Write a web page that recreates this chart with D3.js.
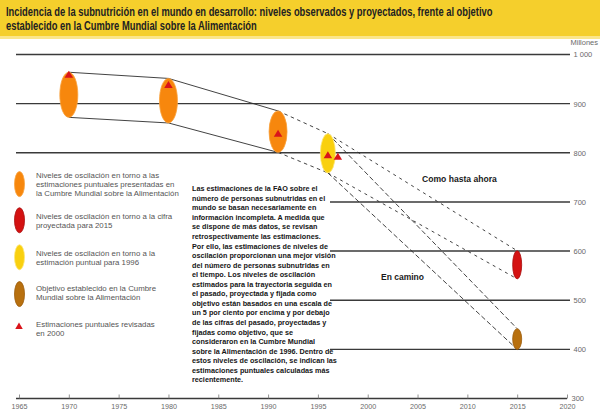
<!DOCTYPE html>
<html><head><meta charset="utf-8">
<script src="https://cdn.jsdelivr.net/npm/d3@7"></script>
<style>body{margin:0;background:#fff}svg{display:block}</style>
</head><body>
<svg id="c" width="600" height="415"></svg>
<script>
// ---------- DATA ----------
const titleLines = [
  "Incidencia de la subnutrición en el mundo en desarrollo: niveles observados y proyectados, frente al objetivo",
  "establecido en la Cumbre Mundial sobre la Alimentación"
];
const unitLabel = "Millones";
const yTicks = [1000, 900, 800, 700, 600, 500, 400, 300];
const xTicks = [1965, 1970, 1975, 1980, 1985, 1990, 1995, 2000, 2005, 2010, 2015, 2020];

// point estimates presented at the World Food Summit (orange)
const observedYears  = [1970, 1980, 1991];
const observedValues = [918, 906, 843];
// point estimate for 1996 (yellow)
const estimateYear = 1996;
const estimateValue = 799;
// projected figure for 2015 (red) and WFS target (brown)
const projectedYear = 2015;
const projectedValue = 572;
const targetYear = 2015;
const targetValue = 421;
// oscillation band (+/- 5 per cent)
const bandShare = 0.05;
// revised point estimates, 2000 (triangles)
const revisedYears  = [1970, 1980, 1991, 1996, 1997];
const revisedValues = [960, 939, 840, 796, 793];

const scenarioLabels = ["Como hasta ahora", "En camino"];

const legendLabels = [
  ["Niveles de oscilación en torno a las", "estimaciones puntuales presentadas en", "la Cumbre Mundial sobre la Alimentación"],
  ["Niveles de oscilación en torno a la cifra", "proyectada para 2015"],
  ["Niveles de oscilación en torno a la", "estimación puntual para 1996"],
  ["Objetivo establecido en la Cumbre", "Mundial sobre la Alimentación"],
  ["Estimaciones puntuales revisadas", "en 2000"]
];

const noteLines = [
  "Las estimaciones de la FAO sobre el",
  "número de personas subnutridas en el",
  "mundo se basan necesariamente en",
  "información incompleta. A medida que",
  "se dispone de más datos, se revisan",
  "retrospectivamente las estimaciones.",
  "Por ello, las estimaciones de niveles de",
  "oscilación proporcionan una mejor visión",
  "del número de personas subnutridas en",
  "el tiempo. Los niveles de oscilación",
  "estimados para la trayectoria seguida en",
  "el pasado, proyectada y fijada como",
  "objetivo están basados en una escala de",
  "un 5 por ciento por encima y por debajo",
  "de las cifras del pasado, proyectadas y",
  "fijadas como objetivo, que se",
  "consideraron en la Cumbre Mundial",
  "sobre la Alimentación de 1996. Dentro de",
  "estos niveles de oscilación, se indican las",
  "estimaciones puntuales calculadas más",
  "recientemente."
];

// ---------- STYLE ----------
const C = {
  orange: "#f7870d", orangeEdge: "#f9a23e",
  yellow: "#f9d00f", yellowEdge: "#fde77c",
  red: "#d41212", redEdge: "#a80c0c",
  brown: "#b8700f", brownEdge: "#9c5c0a",
  tri: "#d9141b",
  grid: "#3a3a3a", line: "#2e2e2e",
  axisText: "#6a6a6a", legendText: "#555", noteText: "#151515"
};
const FONT = "'Liberation Sans', Arial, sans-serif";

const svg = d3.select("#c");
const x = d3.scaleLinear().domain([1965, 2020]).range([19, 567]);
const y = d3.scaleLinear().domain([300, 1000]).range([398.5, 54.5]);

function fit(g, width, tx, ty) {
  const w = d3.max(g.selectAll("text").nodes(), n => n.getComputedTextLength());
  g.attr("transform", `translate(${tx},${ty}) scale(${width / w},1)`);
}

// ---------- TITLE BAND ----------
svg.append("rect").attr("x", 0).attr("y", 0).attr("width", 600).attr("height", 36).attr("fill", "#f5cf2c");
svg.append("rect").attr("x", 0).attr("y", 36).attr("width", 600).attr("height", 3).attr("fill", "#fbe68a");
const tg = svg.append("g");
tg.selectAll("text").data(titleLines).join("text")
  .attr("x", 0).attr("y", (d, i) => i * 14)
  .attr("font-family", FONT).attr("font-size", 12).attr("font-weight", "bold")
  .attr("fill", "#222").text(d => d);
fit(tg, 487, 6, 16);

// ---------- GRID / RIGHT AXIS ----------
const fmt = d3.formatLocale({decimal: ",", thousands: " ", grouping: [3], currency: ["", ""]}).format(",");
svg.append("g").selectAll("line").data(yTicks.filter(v => v > 300)).join("line")
  .attr("x1", v => v >= 800 ? 16 : 330).attr("x2", 570)
  .attr("y1", v => y(v)).attr("y2", v => y(v))
  .attr("stroke", C.grid).attr("stroke-width", 1.4);

const ra = svg.append("g").attr("transform", "translate(570,0)")
  .call(d3.axisRight(y).tickValues(yTicks).tickSize(0).tickPadding(3.5).tickFormat(fmt));
ra.select(".domain").remove();
ra.selectAll("text").attr("font-family", FONT).attr("font-size", 7.5).attr("fill", C.axisText);
ra.selectAll("text").filter(d => d === 300).attr("dx", -2);

svg.append("text").attr("x", 598).attr("y", 45).attr("text-anchor", "end")
  .attr("font-family", FONT).attr("font-size", 7.5).attr("fill", C.axisText).text(unitLabel);

// ---------- BOTTOM AXIS ----------
const ba = svg.append("g").attr("transform", `translate(0,${y(300)})`)
  .call(d3.axisBottom(x).tickValues(xTicks).tickSize(-4).tickSizeOuter(0).tickPadding(5).tickFormat(d3.format("d")));
ba.select(".domain").attr("stroke", C.grid).attr("stroke-width", 1.4).attr("d", `M16,0H${x(2020)}`);
ba.selectAll(".tick line").attr("stroke", "#777").attr("stroke-width", 0.8);
ba.selectAll("text").attr("font-family", FONT).attr("font-size", 7.2).attr("fill", C.axisText);

// ---------- BANDS ----------
const hi = v => y(v * (1 + bandShare));
const lo = v => y(v * (1 - bandShare));
const obs = observedYears.map((yr, i) => ({year: yr, value: observedValues[i]}));
const est = {year: estimateYear, value: estimateValue};
const proj = {year: projectedYear, value: projectedValue};
const targ = {year: targetYear, value: targetValue};

const lineG = svg.append("g").attr("fill", "none").attr("stroke", C.line).attr("stroke-width", 0.9);
const upperLine = d3.line().x(d => x(d.year)).y(d => hi(d.value));
const lowerLine = d3.line().x(d => x(d.year)).y(d => lo(d.value));
// observed trajectory (solid)
lineG.append("path").attr("d", upperLine(obs));
lineG.append("path").attr("d", lowerLine(obs));
// 1991 -> 1996
const lastObs = obs[obs.length - 1];
lineG.append("path").attr("d", upperLine([lastObs, est])).attr("stroke-dasharray", "3.5,3.5");
lineG.append("path").attr("d", lowerLine([lastObs, est])).attr("stroke-dasharray", "3.5,3.5");
// "Como hasta ahora"
lineG.append("path").attr("d", upperLine([est, proj])).attr("stroke-dasharray", "3,4");
lineG.append("path").attr("d", lowerLine([est, proj])).attr("stroke-dasharray", "3,4");
// "En camino"
lineG.append("path").attr("d", upperLine([est, targ])).attr("stroke-dasharray", "5,2.5");
lineG.append("path").attr("d", lowerLine([est, targ])).attr("stroke-dasharray", "5,2.5");

const bands = [
  ...obs.map(d => ({...d, fill: C.orange, edge: C.orangeEdge, rx: 9})),
  {...est, fill: C.yellow, edge: C.yellowEdge, rx: 7.5},
  {...proj, fill: C.red, edge: C.redEdge, rx: 4.5},
  {...targ, fill: C.brown, edge: C.brownEdge, rx: 4.5}
];
svg.append("g").selectAll("ellipse").data(bands).join("ellipse")
  .attr("cx", d => x(d.year)).attr("cy", d => y(d.value))
  .attr("rx", d => d.rx).attr("ry", d => (lo(d.value) - hi(d.value)) / 2)
  .attr("fill", d => d.fill).attr("stroke", d => d.edge).attr("stroke-width", 0.8);

// revised estimates (triangles)
const triPath = (cx, cy, w, h) => `M${cx},${cy - h / 2}L${cx + w / 2},${cy + h / 2}L${cx - w / 2},${cy + h / 2}Z`;
svg.append("g").selectAll("path").data(revisedYears.map((yr, i) => ({year: yr, value: revisedValues[i]})))
  .join("path").attr("d", d => triPath(x(d.year), y(d.value), 8.5, 7)).attr("fill", C.tri);

// scenario labels
const scen = [{t: scenarioLabels[0], x: 422, y: 181.5, w: 75}, {t: scenarioLabels[1], x: 381, y: 279.5, w: 43}];
scen.forEach(s => {
  const g = svg.append("g");
  g.append("text").attr("x", 0).attr("y", 0).attr("font-family", FONT).attr("font-size", 9.5)
    .attr("font-weight", "bold").attr("fill", "#1a1a1a").text(s.t);
  fit(g, s.w, s.x, s.y);
});

// ---------- LEGEND ----------
const legendFirstBaseline = [178, 218.7, 255.7, 291, 327.2];
const legendLH = 9.1;
const legendSym = [
  {fill: C.orange, edge: C.orangeEdge},
  {fill: C.red, edge: C.redEdge},
  {fill: C.yellow, edge: C.yellowEdge},
  {fill: C.brown, edge: C.brownEdge},
  {tri: true}
];
const lg = svg.append("g");
legendLabels.forEach((lines, i) => {
  lines.forEach((t, j) => {
    lg.append("text").attr("x", 0).attr("y", legendFirstBaseline[i] + j * legendLH - legendFirstBaseline[0])
      .attr("font-family", FONT).attr("font-size", 8).attr("fill", C.legendText).text(t);
  });
  const cy = legendFirstBaseline[i] - 3 + (lines.length - 1) * legendLH / 2;
  const s = legendSym[i];
  if (s.tri) {
    svg.append("path").attr("d", triPath(19, cy - 3, 7.5, 6.5)).attr("fill", C.tri);
  } else {
    svg.append("ellipse").attr("cx", 19.5).attr("cy", cy + (i === 3 ? 1.5 : 0)).attr("rx", 5).attr("ry", 12.5)
      .attr("fill", s.fill).attr("stroke", s.edge).attr("stroke-width", 0.8);
  }
});
fit(lg, 143, 36, legendFirstBaseline[0]);

// ---------- NOTE ----------
const ng = svg.append("g");
ng.selectAll("text").data(noteLines).join("text")
  .attr("x", 0).attr("y", (d, i) => i * 9.55)
  .attr("font-family", FONT).attr("font-size", 8).attr("font-weight", "bold")
  .attr("fill", C.noteText).text(d => d);
fit(ng, 145, 192, 191.3);
</script>
</body></html>
